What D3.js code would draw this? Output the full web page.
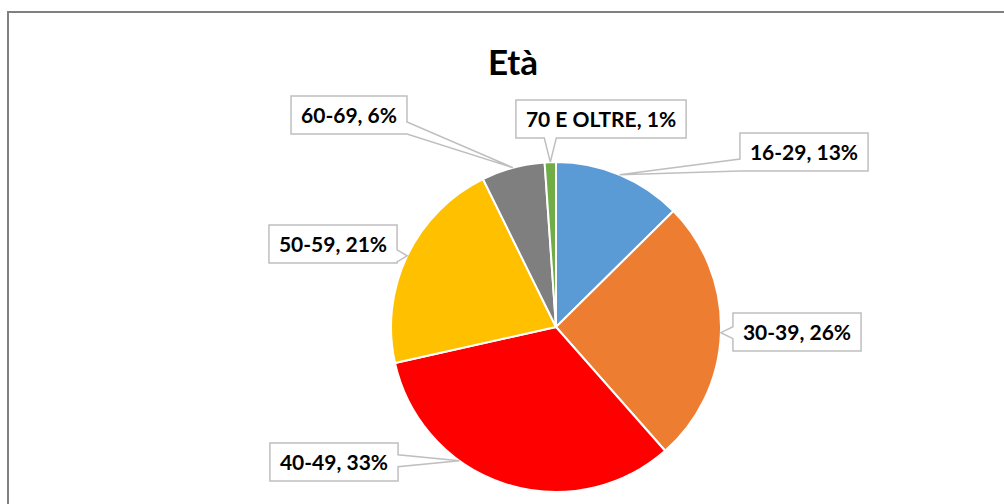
<!doctype html>
<html lang="it">
<head>
  <meta charset="utf-8">
  <title>Età</title>
  <style>
    body { margin: 0; background: #fff; }
    svg { display: block; font-family: Lato, "Open Sans", sans-serif; }
  </style>
</head>
<body>
<div id="chart"></div>

<script src="https://cdnjs.cloudflare.com/ajax/libs/d3/7.8.5/d3.min.js"></script>
<script>

// data
const categories = ["16-29", "30-39", "40-49", "50-59", "60-69", "70 E OLTRE"]
const values = [12.6, 25.9, 33.0, 21.2, 6.2, 1.1]
const colors = ["#5B9BD5", "#ED7D31", "#FF0000", "#FFC000", "#7F7F7F", "#70AD47"]

// where each callout sits, relative to the pie centre, and where along the slice the pointer lands
const labelOffsets = [[248, -175], [241, 5], [-222, 135], [-223, -83], [-207, -212], [45, -208]]
const tipAlong = [0.5, 0.5, 0.65, 0.5, 0.5, 0.5]

const W = 1004, H = 504
const cx = 556, cy = 327, r = 165

const svg = d3.select("#chart").append("svg")
  .attr("width", W)
  .attr("height", H)

// chart border (runs off the right and bottom edges)
svg.append("rect")
  .attr("x", 8).attr("y", 12)
  .attr("width", W + 20).attr("height", H + 20)
  .attr("fill", "#fff")
  .attr("stroke", "#808080")
  .attr("stroke-width", 2)

svg.append("text")
  .attr("x", 513).attr("y", 75)
  .attr("text-anchor", "middle")
  .attr("font-size", 35)
  .attr("font-weight", 700)
  .attr("fill", "#000")
  .text("Età")

const pie = d3.pie().sort(null).value(d => d)
const arcs = pie(values)
const arc = d3.arc().innerRadius(0).outerRadius(r)

const g = svg.append("g").attr("transform", `translate(${cx},${cy})`)

g.selectAll("path.slice")
  .data(arcs)
  .join("path")
  .attr("class", "slice")
  .attr("d", arc)
  .attr("fill", (d, i) => colors[i])
  .attr("stroke", "#fff")
  .attr("stroke-width", 2)

// callout outline: box with a wedge pointing at (tx, ty)
function calloutPath(l, t, rr, b, tx, ty) {
  const w = 12
  const clamp = (v, a, c) => Math.max(a, Math.min(c, v))
  let pts = [[l, t]]
  let side
  if (tx > rr) side = "right"
  else if (tx < l) side = "left"
  else if (ty < t) side = "top"
  else side = "bottom"

  if (side === "top") {
    const x0 = clamp(tx - w / 2, l, rr - w)
    pts.push([x0, t], [tx, ty], [x0 + w, t])
  }
  pts.push([rr, t])
  if (side === "right") {
    const y0 = clamp(ty - w / 2, t, b - w)
    pts.push([rr, y0], [tx, ty], [rr, y0 + w])
  }
  pts.push([rr, b])
  if (side === "bottom") {
    const x0 = clamp(tx - w / 2, l, rr - w)
    pts.push([x0 + w, b], [tx, ty], [x0, b])
  }
  pts.push([l, b])
  if (side === "left") {
    const y0 = clamp(ty - w / 2, t, b - w)
    pts.push([l, y0 + w], [tx, ty], [l, y0])
  }
  return "M" + pts.map(p => p.join(",")).join("L") + "Z"
}

const labels = svg.append("g")

arcs.forEach((d, i) => {
  const txt = categories[i] + ", " + Math.round(values[i]) + "%"
  const bx = cx + labelOffsets[i][0], by = cy + labelOffsets[i][1]

  const a = d.startAngle + (d.endAngle - d.startAngle) * tipAlong[i]
  const tx = cx + r * Math.sin(a), ty = cy - r * Math.cos(a)

  const lg = labels.append("g")
  const path = lg.append("path")
  const t = lg.append("text")
    .attr("x", bx).attr("y", by + 7.5)
    .attr("text-anchor", "middle")
    .attr("font-size", 21)
    .attr("font-weight", 700)
    .attr("fill", "#000")
    .text(txt)

  const tw = t.node().getComputedTextLength()
  const hw = tw / 2 + 10, hh = 19
  path
    .attr("d", calloutPath(bx - hw, by - hh, bx + hw, by + hh, tx, ty))
    .attr("fill", "#fff")
    .attr("stroke", "#BFBFBF")
    .attr("stroke-width", 1.5)
})

</script>
</body>
</html>
